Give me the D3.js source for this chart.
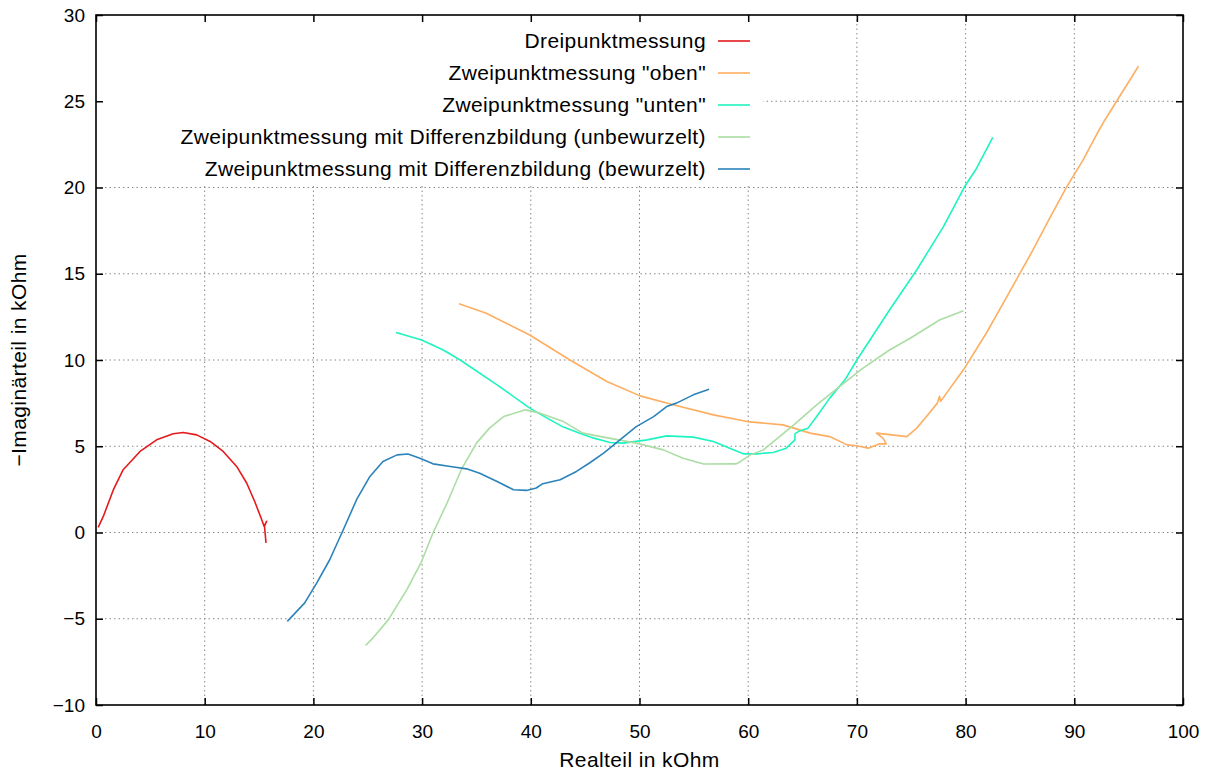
<!DOCTYPE html>
<html><head><meta charset="utf-8">
<script src="https://cdn.jsdelivr.net/npm/d3@7"></script>
<style>
html,body{margin:0;padding:0;background:#fff;}
text{font-family:"Liberation Sans",Arial,Helvetica,sans-serif;fill:#000;}
</style></head>
<body><svg id="c" width="1208" height="771"></svg>
<script>
const xTicks = [0,10,20,30,40,50,60,70,80,90,100];
const yTicks = [-10,-5,0,5,10,15,20,25,30];

const seriesNames = ["Dreipunktmessung","Zweipunktmessung \"oben\"","Zweipunktmessung \"unten\"","Zweipunktmessung mit Differenzbildung (unbewurzelt)","Zweipunktmessung mit Differenzbildung (bewurzelt)"];
const seriesColors = ["#e41a1c","#fdae61","#1ef4c0","#abdda4","#2b83ba"];

const dreiX = [0.2,0.67,1.6,2.5,4.05,5.58,7.1,8.03,9.26,10.5,11.7,12.94,13.86,14.6,15.24,15.46,15.7,15.5,15.64];
const dreiY = [0.3,0.93,2.48,3.64,4.7,5.37,5.72,5.8,5.66,5.28,4.7,3.83,2.87,1.8,0.75,0.36,0.65,0.36,-0.6];

const obenX = [33.4,35.9,39.9,43.6,47.0,50.05,53.1,56.8,59.9,63.2,65.7,67.5,69.1,70.0,71.05,72.1,72.7,72.4,71.8,74.6,75.5,76.4,77.4,77.6,77.7,79.8,81.9,83.8,86.2,87.8,89.3,90.8,92.1,92.8,95.9];
const obenY = [13.26,12.71,11.45,10.0,8.75,7.92,7.4,6.82,6.43,6.24,5.76,5.56,5.08,5.03,4.89,5.14,5.14,5.47,5.76,5.56,6.05,6.72,7.5,7.9,7.6,9.43,11.55,13.67,16.38,18.3,20.04,21.59,23.13,23.9,27.03];

const untenX = [27.6,29.96,31.95,33.5,36.9,39.9,41.5,43.0,44.5,45.8,47.3,48.5,50.7,52.5,54.95,56.8,58.3,59.55,60.8,62.3,63.5,64.3,64.3,64.6,65.5,66.3,67.5,68.9,70.0,73.0,75.5,77.95,79.9,80.9,82.5];
const untenY = [11.59,11.16,10.58,10.0,8.56,7.21,6.63,6.11,5.76,5.47,5.22,5.18,5.37,5.6,5.53,5.28,4.89,4.56,4.56,4.64,4.89,5.37,5.72,5.85,6.05,6.72,7.79,8.85,10.0,12.9,15.22,17.72,20.04,21.0,22.9];

const unbewX = [24.8,25.4,26.9,28.6,29.96,31.0,32.3,33.6,35.0,36.2,37.5,39.5,40.85,43.0,44.8,46.7,49.7,52.2,54.0,55.9,58.9,59.3,60.2,61.4,64.2,66.3,68.4,70.5,73.0,74.9,77.6,79.8];
const unbewY = [-6.55,-6.17,-5.05,-3.31,-1.67,-0.03,1.71,3.64,5.18,6.05,6.72,7.11,6.92,6.43,5.76,5.53,5.18,4.79,4.31,3.97,3.98,4.12,4.5,4.79,6.24,7.4,8.46,9.5,10.58,11.26,12.32,12.86];

const bewX = [17.6,19.2,20.3,21.5,22.75,23.97,25.2,26.4,27.7,28.7,29.8,31.0,32.6,34.1,35.3,36.9,38.4,39.6,40.5,41.1,42.7,44.2,45.4,46.7,48.2,49.7,51.3,52.5,53.4,54.95,56.4];
const bewY = [-5.15,-4.08,-2.93,-1.58,0.16,1.9,3.25,4.12,4.5,4.55,4.31,3.98,3.83,3.69,3.44,2.96,2.48,2.44,2.58,2.83,3.06,3.54,4.03,4.6,5.37,6.14,6.72,7.3,7.5,7.98,8.31];

const seriesX = [dreiX, obenX, untenX, unbewX, bewX];
const seriesY = [dreiY, obenY, untenY, unbewY, bewY];

const L = 96, T = 15, R = 1183, B = 705;
const svg = d3.select("#c");
const x = d3.scaleLinear().domain([0,100]).range([L,R]);
const y = d3.scaleLinear().domain([-10,30]).range([B,T]);

// grid
const grid = svg.append("g");
grid.selectAll("line.gx").data(xTicks.slice(1,-1)).enter().append("line")
  .attr("x1",d=>x(d)).attr("x2",d=>x(d)).attr("y1",T).attr("y2",B)
  .attr("stroke","#888").attr("stroke-width",1).attr("stroke-dasharray","1.5,3");
grid.selectAll("line.gy").data(yTicks.slice(1,-1)).enter().append("line")
  .attr("x1",L).attr("x2",R).attr("y1",d=>y(d)).attr("y2",d=>y(d))
  .attr("stroke","#888").attr("stroke-width",1).attr("stroke-dasharray","1.5,3");

// legend blanking box
svg.append("rect").attr("x",L+1).attr("y",T+1).attr("width",762-L).attr("height",186-T-1).attr("fill","#fff");

// axes
const tickLen = 7;
const axB = svg.append("g").attr("transform",`translate(0,${B})`)
  .call(d3.axisBottom(x).tickValues(xTicks).tickSize(-tickLen).tickPadding(26).tickFormat(d3.format("d")));
const axT = svg.append("g").attr("transform",`translate(0,${T})`)
  .call(d3.axisTop(x).tickValues(xTicks).tickSize(-tickLen).tickFormat(""));
const axL = svg.append("g").attr("transform",`translate(${L},0)`)
  .call(d3.axisLeft(y).tickValues(yTicks).tickSize(-tickLen).tickPadding(11).tickFormat(d=>d<0?"\u2212"+Math.abs(d):String(d)));
const axR = svg.append("g").attr("transform",`translate(${R},0)`)
  .call(d3.axisRight(y).tickValues(yTicks).tickSize(-tickLen).tickFormat(""));
[axB,axT,axL,axR].forEach(a=>{
  a.select(".domain").remove();
  a.selectAll(".tick line").attr("stroke","#000").attr("stroke-width",1.5);
  a.selectAll(".tick text").attr("font-size",19).attr("font-family","'Liberation Sans',Arial,sans-serif").attr("fill","#000");
});
axB.selectAll(".tick text").attr("dy","0.35em");

// data lines
const line = d3.line().x(d=>x(d[0])).y(d=>y(d[1]));
seriesX.forEach((xs,i)=>{
  const pts = xs.map((v,j)=>[v, seriesY[i][j]]);
  svg.append("path").datum(pts).attr("d",line).attr("fill","none")
    .attr("stroke",seriesColors[i]).attr("stroke-width",1.6).attr("stroke-linejoin","round");
});

// frame
svg.append("rect").attr("x",L).attr("y",T).attr("width",R-L).attr("height",B-T)
  .attr("fill","none").attr("stroke","#000").attr("stroke-width",1.6);

// legend
const lg = svg.append("g");
seriesNames.forEach((n,i)=>{
  const yy = 41 + i*32;
  lg.append("text").attr("x",706).attr("y",yy).attr("dy","0.35em").attr("text-anchor","end")
    .attr("font-size",21).attr("letter-spacing","0.4px").text(n);
  lg.append("line").attr("x1",718).attr("x2",750).attr("y1",yy).attr("y2",yy)
    .attr("stroke",seriesColors[i]).attr("stroke-width",1.6);
});

// axis titles
svg.append("text").attr("x",(L+R)/2).attr("y",767).attr("text-anchor","middle").attr("font-size",21).attr("letter-spacing","0.4px").text("Realteil in kOhm");
svg.append("text").attr("transform",`translate(26,${(T+B)/2}) rotate(-90)`).attr("text-anchor","middle").attr("font-size",21).attr("letter-spacing","0.4px").text("\u2212Imaginärteil in kOhm");
</script></body></html>
